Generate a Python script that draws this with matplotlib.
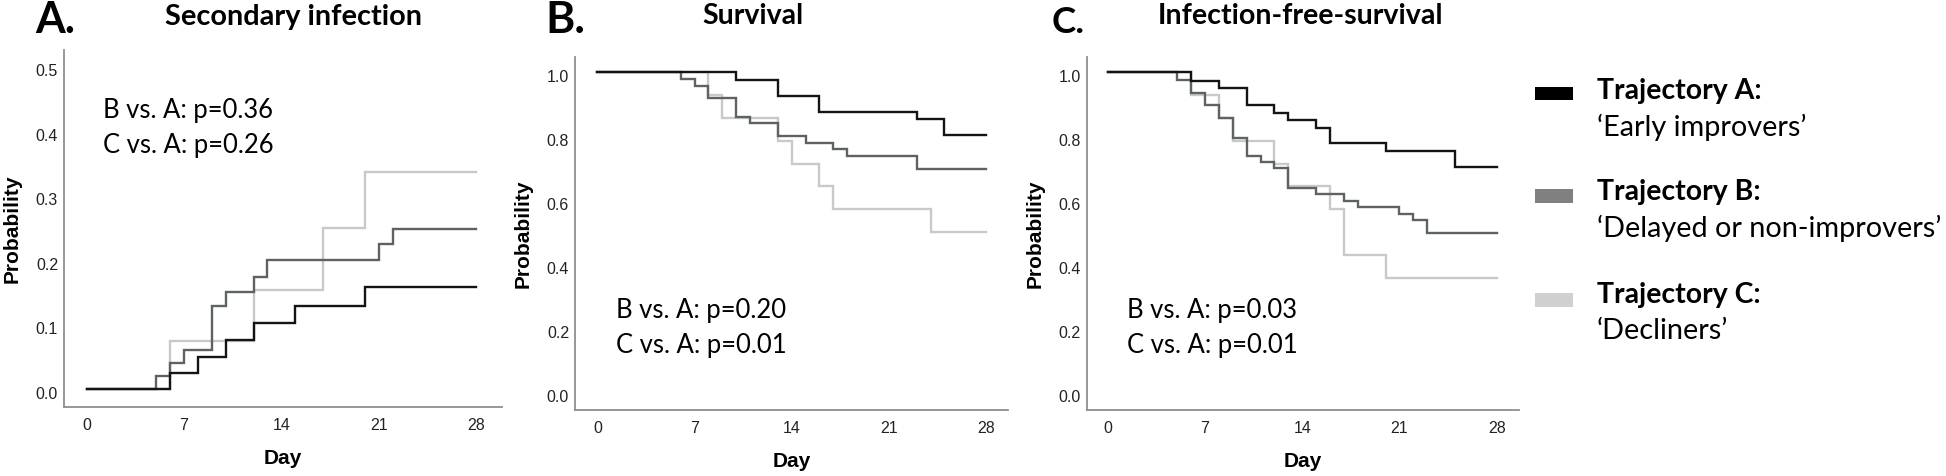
import matplotlib
matplotlib.use('Agg')
import matplotlib.pyplot as plt
import matplotlib.transforms as mtransforms
from matplotlib.patches import Rectangle

W, H = 1946, 476

# --- data (Kaplan-Meier style steps) ---
# A. Secondary infection (cumulative probability)
inf_days_a = [0, 6, 8, 10, 12, 15, 20, 28]
inf_prob_a = [0, 0.025, 0.05, 0.076, 0.102, 0.129, 0.158, 0.158]
inf_days_b = [0, 5, 6, 7, 9, 10, 12, 13, 21, 22, 28]
inf_prob_b = [0, 0.02, 0.04, 0.061, 0.128, 0.150, 0.174, 0.199, 0.224, 0.248, 0.248]
inf_days_c = [0, 6, 12, 17, 20, 28]
inf_prob_c = [0, 0.074, 0.154, 0.25, 0.336, 0.336]

# B. Survival
surv_days_a = [0, 10, 13, 16, 23, 25, 28]
surv_prob_a = [1, 0.976, 0.926, 0.877, 0.854, 0.804, 0.804]
surv_days_b = [0, 6, 7, 8, 10, 11, 13, 15, 17, 18, 23, 28]
surv_prob_b = [1, 0.979, 0.958, 0.919, 0.859, 0.840, 0.801, 0.778, 0.759, 0.739, 0.697, 0.697]
surv_days_c = [0, 8, 9, 13, 14, 16, 17, 24, 28]
surv_prob_c = [1, 0.929, 0.857, 0.786, 0.714, 0.643, 0.571, 0.5, 0.5]

# C. Infection-free survival
ifs_days_a = [0, 6, 8, 10, 12, 13, 15, 16, 20, 25, 28]
ifs_prob_a = [1, 0.974, 0.951, 0.899, 0.874, 0.851, 0.827, 0.778, 0.754, 0.705, 0.705]
ifs_days_b = [0, 5, 6, 7, 8, 9, 10, 11, 12, 13, 15, 17, 18, 21, 22, 23, 28]
ifs_prob_b = [1, 0.977, 0.935, 0.897, 0.857, 0.793, 0.737, 0.719, 0.699, 0.638, 0.618,
              0.597, 0.577, 0.558, 0.538, 0.498, 0.498]
ifs_days_c = [0, 6, 8, 9, 12, 13, 16, 17, 20, 28]
ifs_prob_c = [1, 0.929, 0.857, 0.786, 0.714, 0.643, 0.571, 0.429, 0.357, 0.357]

letters = ['A.', 'B.', 'C.']
titles = ['Secondary infection', 'Survival', 'Infection-free-survival']
pvals = [('0.36', '0.26'), ('0.20', '0.01'), ('0.03', '0.01')]
x_ticks = [0, 7, 14, 21, 28]
legend_names = ['Trajectory A:', 'Trajectory B:', 'Trajectory C:']
legend_desc = ['\u2018Early improvers\u2019', '\u2018Delayed or non-improvers\u2019', '\u2018Decliners\u2019']

line_colors = ['#141414', '#5d6360', '#c9c9c9']
patch_colors = ['#000000', '#808080', '#d0d0d0']
CAL = 'Lato'
ARIAL = 'Liberation Sans'

fig = plt.figure(figsize=(W / 100, H / 100), dpi=100)
renderer = fig.canvas.get_renderer()


def fit(txt, target_px):
    w = txt.get_window_extent(renderer).width
    txt.set_fontsize(txt.get_fontsize() * target_px / w)
    return txt.get_fontsize()


# axes boxes in pixels: left, top, right, bottom
boxes = [(64, 50, 502, 407), (575, 57, 1008, 410), (1086.7, 57, 1519, 410)]
ylims = [(-0.028, 0.525), (-0.057, 1.048), (-0.057, 1.048)]
xlims = [(-1.63, 29.87), (-1.61, 29.58), (-1.51, 29.6)]
yticks = [[0, 0.1, 0.2, 0.3, 0.4, 0.5], [0, 0.2, 0.4, 0.6, 0.8, 1.0], [0, 0.2, 0.4, 0.6, 0.8, 1.0]]
series = [
    [(inf_days_a, inf_prob_a), (inf_days_b, inf_prob_b), (inf_days_c, inf_prob_c)],
    [(surv_days_a, surv_prob_a), (surv_days_b, surv_prob_b), (surv_days_c, surv_prob_c)],
    [(ifs_days_a, ifs_prob_a), (ifs_days_b, ifs_prob_b), (ifs_days_c, ifs_prob_c)],
]
text_pos = [(1.17, 0.419, 0.366), (1.35, 0.230, 0.120), (1.37, 0.230, 0.120)]
letter_pos = [(35, 33), (545, 33), (1052, 33)]
title_pos = [(293.5, 25), (752.5, 24), (1300, 24)]
title_w = [257, 101, 286]

down = mtransforms.ScaledTranslation(0, -4 / 100, fig.dpi_scale_trans)

for i in range(3):
    l, t, r, b = boxes[i]
    ax = fig.add_axes([l / W, 1 - b / H, (r - l) / W, (b - t) / H])
    # light grey drawn first, then dark grey, then black on top
    for k in (2, 1, 0):
        d, p = series[i][k]
        ax.step(d, p, where='post', color=line_colors[k], lw=1.7, solid_joinstyle='miter')
    ax.set_xlim(*xlims[i])
    ax.set_ylim(*ylims[i])
    ax.set_xticks(x_ticks)
    ax.set_yticks(yticks[i])
    ax.set_yticklabels(['%.1f' % v for v in yticks[i]])
    for s in ('top', 'right'):
        ax.spines[s].set_visible(False)
    for s in ('left', 'bottom'):
        ax.spines[s].set_color('#8f8f8f')
        ax.spines[s].set_linewidth(1.3)
    ax.tick_params(length=0, labelsize=11.5, labelcolor='#222222')
    ax.tick_params(axis='y', pad=4.3)
    ax.tick_params(axis='x', pad=8)
    for lab in ax.get_xticklabels() + ax.get_yticklabels():
        lab.set_fontfamily(ARIAL)
    for lab in ax.get_yticklabels():
        lab.set_transform(lab.get_transform() + down)
    ax.set_ylabel('Probability', fontfamily=ARIAL, fontweight='bold', fontsize=15, va='center')
    ax.set_xlabel('Day', fontfamily=ARIAL, fontweight='bold', fontsize=15, va='center')
    ax.yaxis.set_label_coords(-52 / (r - l), 0.5)
    ax.xaxis.set_label_coords(0.5, -51.5 / (b - t))

    x0, y1, y2 = text_pos[i]
    t1 = ax.text(x0, y1, 'B vs. A: p=' + pvals[i][0], fontfamily=CAL, fontsize=17, va='baseline')
    t2 = ax.text(x0, y2, 'C vs. A: p=' + pvals[i][1], fontfamily=CAL, fontsize=17, va='baseline')
    sz = fit(t1, 170)
    t2.set_fontsize(sz)

    lx, ly = letter_pos[i]
    lt = fig.text(lx / W, 1 - ly / H, letters[i], fontfamily=CAL, fontweight='bold',
                  fontsize=29, ha='left', va='baseline')
    fit(lt, 40 if i < 2 else 33)
    tx, ty = title_pos[i]
    tt = fig.text(tx / W, 1 - ty / H, titles[i], fontfamily=CAL, fontweight='bold',
                  fontsize=20, ha='center', va='baseline')
    fit(tt, title_w[i])

# legend on the right
patch_y = [86.7, 189, 293]
name_base = [99.3, 200, 302.7]
desc_base = [136, 236.7, 339.3]
name_sz = None
desc_sz = None
for k in range(3):
    fig.add_artist(Rectangle((1535 / W, 1 - (patch_y[k] + 13.5) / H), 38 / W, 13.5 / H,
                             transform=fig.transFigure, facecolor=patch_colors[k],
                             edgecolor='none'))
    tn = fig.text(1597 / W, 1 - name_base[k] / H, legend_names[k], fontfamily=CAL,
                  fontweight='bold', fontsize=21, ha='left', va='baseline')
    td = fig.text(1597 / W, 1 - desc_base[k] / H, legend_desc[k], fontfamily=CAL,
                  fontsize=21, ha='left', va='baseline')
    if name_sz is None:
        name_sz = fit(tn, 164)
    else:
        tn.set_fontsize(name_sz)
    if k == 1:
        desc_sz = fit(td, 345)
    legend_desc[k] = td

for td in legend_desc:
    td.set_fontsize(desc_sz)

fig.savefig('out.png', dpi=100)
